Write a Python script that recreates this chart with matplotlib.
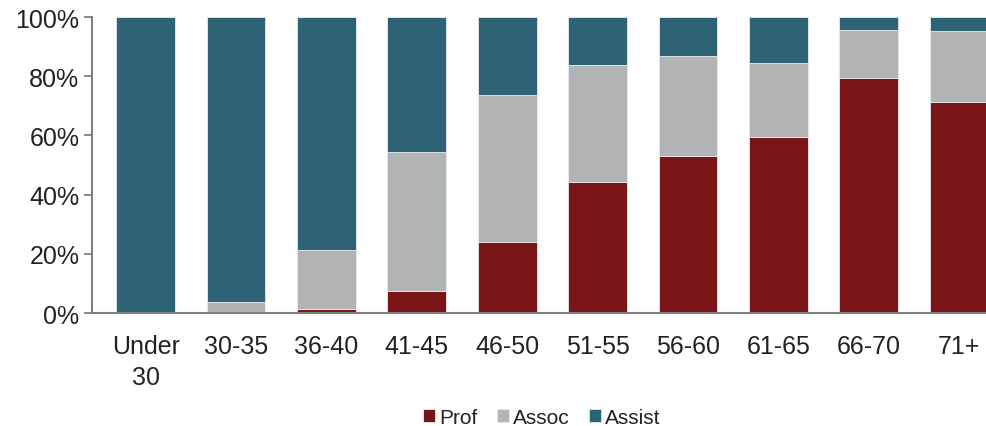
import matplotlib
matplotlib.use("Agg")
import matplotlib.pyplot as plt
import numpy as np
from matplotlib.ticker import FuncFormatter

plt.rcParams['font.family'] = ['Liberation Sans', 'DejaVu Sans']

categories = ["Under\n30", "30-35", "36-40", "41-45", "46-50", "51-55", "56-60", "61-65", "66-70", "71+"]
prof = [0.0, 0.0, 1.4, 7.5, 24.1, 44.1, 53.0, 59.5, 79.4, 71.3]
assoc = [0.0, 3.7, 20.0, 46.9, 49.4, 39.7, 33.7, 24.8, 16.1, 24.0]
assist = [100 - p - a for p, a in zip(prof, assoc)]

colors = {"Prof": "#7B1416", "Assoc": "#B2B3B5", "Assist": "#2E6275"}

fig = plt.figure(figsize=(9.87, 4.27), dpi=100)
ax = fig.add_axes([0.0932, 0.2646, 0.9068, 0.6932])

x = np.arange(len(categories))
w = 0.65
ec = "#E6ECEF"
b1 = ax.bar(x, prof, w, color=colors["Prof"], edgecolor=ec, linewidth=0.6, label="Prof")
b2 = ax.bar(x, assoc, w, bottom=prof, color=colors["Assoc"], edgecolor=ec, linewidth=0.6, label="Assoc")
bottom2 = [p + a for p, a in zip(prof, assoc)]
b3 = ax.bar(x, assist, w, bottom=bottom2, color=colors["Assist"], edgecolor=ec, linewidth=0.6, label="Assist")

ax.set_xlim(-0.595, 9.31)
ax.set_ylim(0, 100)
ax.set_yticks(np.arange(0, 101, 20))
ax.yaxis.set_major_formatter(FuncFormatter(lambda v, _: f"{int(v)}%"))
ax.set_xticks(x)
ax.set_xticklabels(categories, fontsize=18, color="#222222", linespacing=1.4)
ax.tick_params(axis='y', labelsize=18, labelcolor="#222222", length=6, width=1.3, color="#808080", pad=3)
ax.tick_params(axis='x', length=0, pad=15)

for s in ["top", "right"]:
    ax.spines[s].set_visible(False)
for s in ["left", "bottom"]:
    ax.spines[s].set_color("#808080")
    ax.spines[s].set_linewidth(1.5)

leg = fig.legend(handles=[b1, b2, b3], labels=["Prof", "Assoc", "Assist"],
                 loc="center", bbox_to_anchor=(0.549, 0.02), ncol=3, frameon=False,
                 fontsize=15, handlelength=0.6, handleheight=0.6, handletextpad=0.2,
                 columnspacing=0.9, borderaxespad=0)
for t in leg.get_texts():
    t.set_color("#222222")

fig.savefig("out.png", dpi=100)
